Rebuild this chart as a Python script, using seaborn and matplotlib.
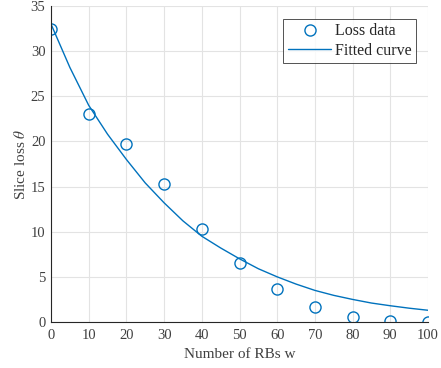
import numpy as np
import pandas as pd
import matplotlib
matplotlib.use("Agg")
import matplotlib.pyplot as plt
import seaborn as sns

# Data
rbs = [0, 10, 20, 30, 40, 50, 60, 70, 80, 90, 100]
loss = [32.4, 23.0, 19.7, 15.3, 10.3, 6.5, 3.7, 1.7, 0.5, 0.15, 0.03]

fit_x = [0, 5, 10, 15, 20, 25, 30, 35, 40, 45, 50, 55, 60, 65, 70, 75, 80, 85, 90, 95, 100]
fit_y = [33.0, 28.2, 24.0, 20.8, 18.0, 15.4, 13.2, 11.2, 9.5, 8.2, 7.0, 5.9, 5.0, 4.2,
         3.5, 2.95, 2.5, 2.1, 1.8, 1.53, 1.3]

xticks = [0, 10, 20, 30, 40, 50, 60, 70, 80, 90, 100]
yticks = [0, 5, 10, 15, 20, 25, 30, 35]

sns.set_style("white")
plt.rcParams['font.family'] = ['Liberation Serif', 'DejaVu Serif']
plt.rcParams['mathtext.fontset'] = 'stix'

blue = '#0072BD'
axc = '#262626'

fig = plt.figure(figsize=(4.41, 3.68), dpi=100)
ax = fig.add_axes([51/441, 46/368, (428-51)/441, (322-6)/368])

df_pts = pd.DataFrame({'w': rbs, 'loss': loss})
df_fit = pd.DataFrame({'w': fit_x, 'loss': fit_y})

sns.lineplot(data=df_pts, x='w', y='loss', ax=ax, marker='o', linestyle='',
             markersize=8, markerfacecolor='none', markeredgecolor=blue,
             markeredgewidth=1.0, color=blue, label='Loss data')
sns.lineplot(data=df_fit, x='w', y='loss', ax=ax, color=blue, linewidth=1.0,
             label='Fitted curve')

ax.set_xlim(0, 100)
ax.set_ylim(0, 35)
ax.set_xticks(xticks)
ax.set_yticks(yticks)
ax.grid(True, color='#e3e3e3', linewidth=0.8)
ax.set_axisbelow(True)
for s in ['top', 'right']:
    ax.spines[s].set_visible(False)
for s in ['left', 'bottom']:
    ax.spines[s].set_color(axc)
    ax.spines[s].set_linewidth(0.8)
ax.tick_params(direction='in', length=3, width=0.8, colors=axc, labelsize=10.5,
               labelcolor='#404040')
ax.tick_params(axis='x', pad=5)
ax.tick_params(axis='y', pad=4)
for lbl in ax.get_xticklabels() + ax.get_yticklabels():
    lbl.set_clip_on(False)

ax.set_xlabel('Number of RBs w', fontsize=11, color='#404040', labelpad=4)
ax.set_ylabel('Slice loss $\\theta$', fontsize=11, color='#404040', labelpad=2)

leg = ax.legend(loc='upper right', bbox_to_anchor=(0.968, 0.96), fontsize=11.5,
                frameon=True, fancybox=False, handlelength=2.7, handletextpad=0.2,
                borderpad=0.3, labelspacing=0.2, borderaxespad=0)
leg.get_frame().set_edgecolor(axc)
leg.get_frame().set_linewidth(0.7)
for t in leg.get_texts():
    t.set_color('#262626')

fig.savefig('out.png', dpi=100)
